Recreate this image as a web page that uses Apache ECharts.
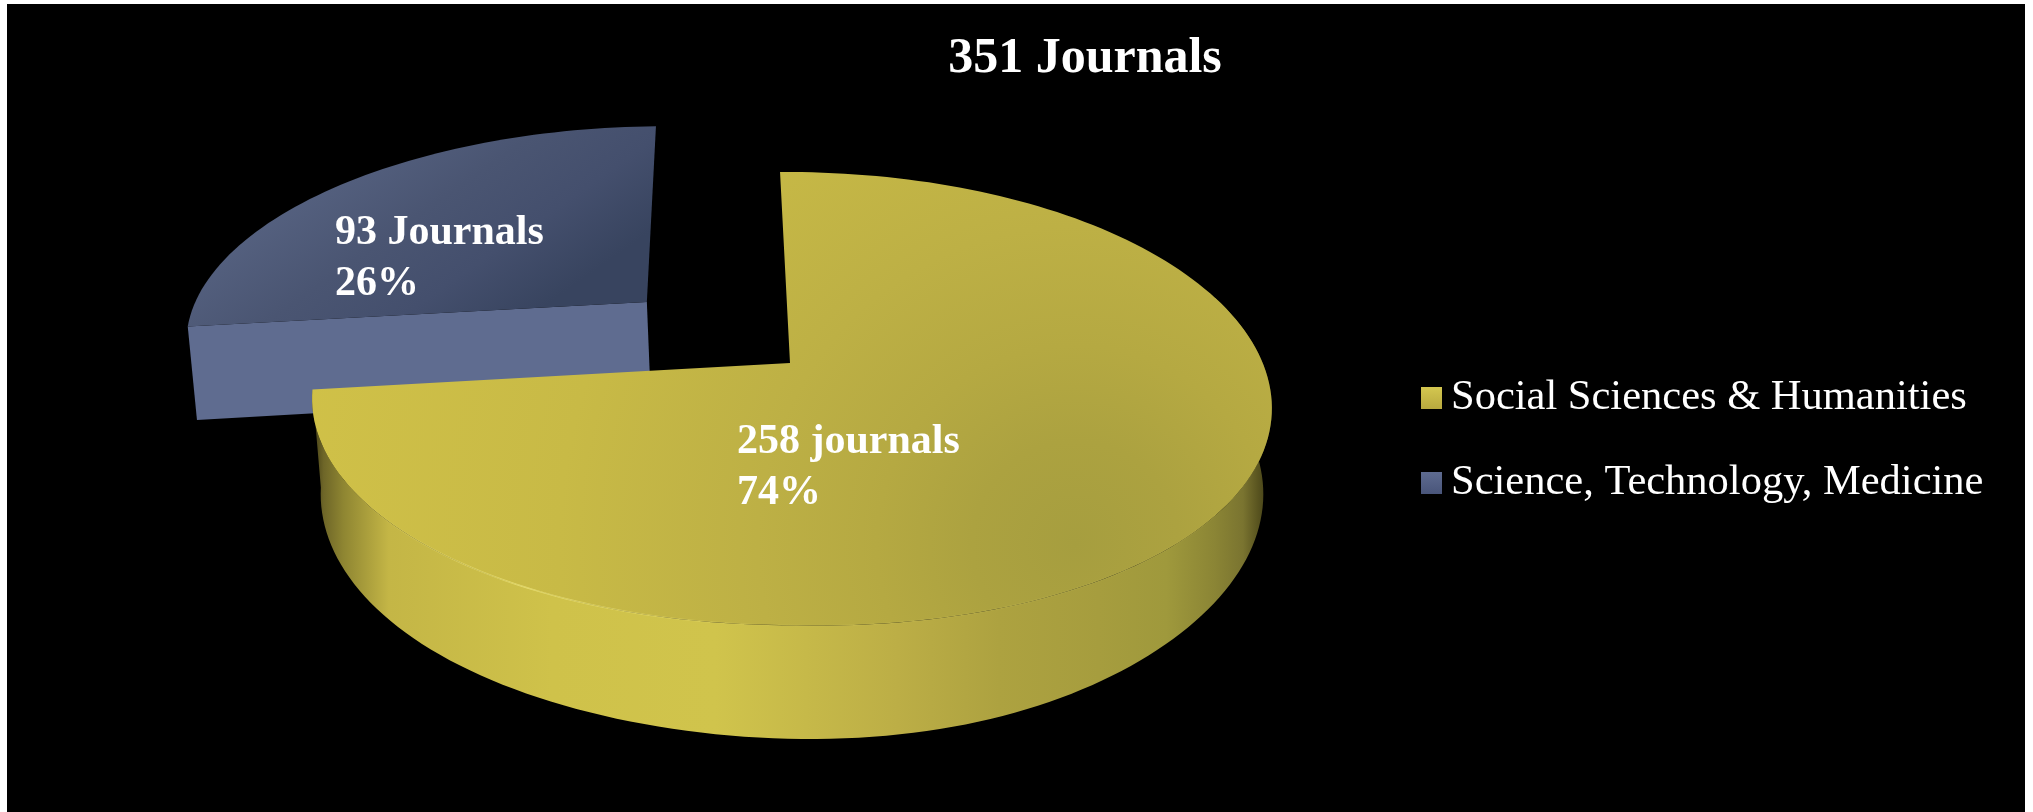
<!DOCTYPE html>
<html>
<head>
<meta charset="utf-8">
<style>html,body{margin:0;padding:0;background:#fff}#c{width:2033px;height:812px}</style>
<script src="https://cdn.jsdelivr.net/npm/echarts@6/dist/echarts.min.js"></script>
</head>
<body>
<div id="c"></div>
<script>
var titleText = '351 Journals';
var categories = ['Social Sciences & Humanities', 'Science, Technology, Medicine'];
var journalCounts = [258, 93];
var percentLabels = [74, 26];
var countWords = ['journals', 'Journals'];

var SERIF = '"Liberation Serif","Times New Roman",serif';
var total = journalCounts[0] + journalCounts[1];
var view = {cx: 790, cy: 363, rx: 472, ry: 221, k: 0.157, wall: 96, startDeg: -1.4};
var explode = [[0, 0], [-0.317, -0.288]];
var labelPos = [[737, 442], [335, 233]];

function project(u, v, bottom) {
  var s = 1 / (1 - view.k * v);
  var x = view.cx + view.rx * u * s;
  var y = view.cy + view.ry * v * s;
  if (bottom) {
    var vv = Math.max(v, 0);
    x = view.cx + 2 + 18 * Math.pow(vv, 6) + (x - view.cx) * (0.988 - 0.012 * vv);
    y += view.wall * s;
  } else if (u > 0) {
    x += 4 * u;
    y += u * (9 + 7 * v);
  }
  return [x, y];
}
function arc(fromDeg, toDeg, off, bottom) {
  var pts = [], n = Math.max(8, Math.ceil(Math.abs(toDeg - fromDeg) / 1.5));
  for (var i = 0; i <= n; i++) {
    var a = (fromDeg + (toDeg - fromDeg) * i / n) * Math.PI / 180;
    pts.push(project(Math.sin(a) + off[0], -Math.cos(a) + off[1], bottom));
  }
  return pts;
}
function sliceAngles(idx) {
  var before = 0;
  for (var i = 0; i < idx; i++) before += journalCounts[i];
  return [view.startDeg + before / total * 360,
          view.startDeg + (before + journalCounts[idx]) / total * 360];
}
function grad(x, y, x2, y2, stops) {
  return {type: 'linear', x: x, y: y, x2: x2, y2: y2,
    colorStops: stops.map(function (s) { return {offset: s[0], color: s[1]}; })};
}
function labelEls(idx, value) {
  var p = labelPos[idx];
  var font = 'bold 42px ' + SERIF;
  return [
    {type: 'text', z2: 20, style: {text: value + ' ' + countWords[idx], x: p[0], y: p[1],
      fill: '#fff', font: font, textAlign: 'left', textVerticalAlign: 'middle'}},
    {type: 'text', z2: 20, style: {text: percentLabels[idx] + '%', x: p[0], y: p[1] + 51,
      fill: '#fff', font: font, textAlign: 'left', textVerticalAlign: 'middle'}}
  ];
}

function renderYellow(params, api) {
  var idx = 0, value = api.value(0), a = sliceAngles(idx), off = explode[idx];
  var top = arc(a[0], a[1], off);
  var apex = project(off[0], off[1]);
  var wallFrom = 70;
  var wallTop = arc(wallFrom, a[1], off);
  var wallBottom = arc(a[1], wallFrom, off, true);
  var rim = arc(110, 240, off);
  return {type: 'group', children: [
    {type: 'polygon', z2: 1, shape: {points: wallTop.concat(wallBottom)},
      style: {fill: grad(0, 0, 1, 0, [[0, '#3f3a14'], [0.012, '#6e6628'], [0.033, '#8f8632'], [0.08, '#c4b646'],
        [0.25, '#cfc24a'], [0.42, '#d0c44c'], [0.61, '#bcae46'], [0.716, '#ada240'], [0.82, '#a69d3e'], [0.89, '#9f993c'],
        [0.94, '#8b8535'], [0.97, '#7a7430'], [0.985, '#5a5520'], [1, '#3a3714']])}},
    {type: 'polygon', z2: 2, shape: {points: top.concat([apex])},
      style: {fill: {type: 'radial', x: 0.795, y: 0.82, r: 1.75, colorStops: [
        {offset: 0, color: '#a69e3f'}, {offset: 0.13, color: '#aca240'}, {offset: 0.25, color: '#b5a942'},
        {offset: 0.4, color: '#bdb045'}, {offset: 0.65, color: '#c8ba46'}, {offset: 1, color: '#d0c148'}]}}},
    {type: 'polyline', z2: 3, shape: {points: rim},
      style: {fill: null, lineWidth: 1.5, stroke: grad(0, 0, 1, 0, [[0, 'rgba(236,226,120,0)'], [0.2, 'rgba(240,230,120,0.8)'],
        [0.45, 'rgba(236,226,120,0.1)'], [0.8, 'rgba(210,205,110,0.15)'], [1, 'rgba(236,226,120,0)']])}}
  ].concat(labelEls(idx, value))};
}

function renderBlue(params, api) {
  var idx = 1, value = api.value(0), a = sliceAngles(idx), off = explode[idx];
  var top = arc(a[0], a[1], off);
  var apex = project(off[0], off[1]);
  var leftTop = top[0];
  var apexBottom = project(off[0], off[1], true);
  var t0 = a[0] * Math.PI / 180;
  var leftBottom = project(Math.sin(t0) + off[0], -Math.cos(t0) + off[1], true);
  return {type: 'group', children: [
    {type: 'polygon', z2: 1, shape: {points: [apex, leftTop, leftBottom, apexBottom]},
      style: {fill: '#5f6c90'}},
    {type: 'polygon', z2: 2, shape: {points: top.concat([apex])},
      style: {fill: grad(0.4, 0, 0.7, 1, [[0, '#566281'], [0.4, '#4a5572'], [0.7, '#444f6d'], [1, '#38445f']])}}
  ].concat(labelEls(idx, value))};
}

var chart = echarts.init(document.getElementById('c'), null, {width: 2033, height: 812});
chart.setOption({
  animation: false,
  backgroundColor: '#ffffff',
  graphic: [{type: 'rect', z: -10, silent: true, shape: {x: 7, y: 4, width: 2018, height: 808}, style: {fill: '#000'}}],
  title: {text: titleText, left: 1080, top: 29, textAlign: 'center',
    textStyle: {color: '#fff', fontFamily: SERIF, fontWeight: 'bold', fontSize: 50}},
  legend: {
    orient: 'vertical', left: 1416, top: 369, icon: 'rect', itemWidth: 21, itemHeight: 22, itemGap: 37,
    selectedMode: false,
    data: [
      {name: categories[0], itemStyle: {color: grad(0, 0, 0, 1, [[0, '#d4c750'], [1, '#b8a93e']])}},
      {name: categories[1], itemStyle: {color: grad(0, 0, 0, 1, [[0, '#5e6b90'], [1, '#49557a']])}}
    ],
    textStyle: {color: '#fff', fontFamily: SERIF, fontSize: 42.5, lineHeight: 48, padding: [0, 0, 0, 4]}
  },
  series: [
    {type: 'custom', name: categories[1], coordinateSystem: 'none', z: 2, silent: true,
      itemStyle: {color: '#56628a'}, data: [[journalCounts[1]]], renderItem: renderBlue},
    {type: 'custom', name: categories[0], coordinateSystem: 'none', z: 3, silent: true,
      itemStyle: {color: '#c9ba45'}, data: [[journalCounts[0]]], renderItem: renderYellow}
  ]
});
</script>
</body>
</html>
